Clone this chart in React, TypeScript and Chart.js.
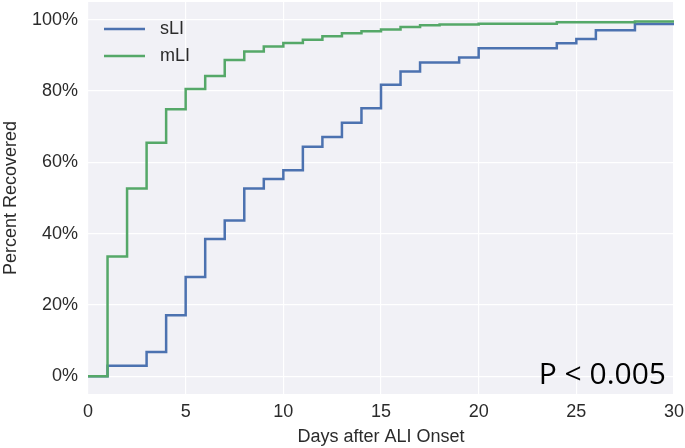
import React, { useEffect, useRef } from "react";
import { Chart, registerables } from "chart.js";
Chart.register(...registerables);

const seriesNames = ["sLI", "mLI"];
const sliDays = [0, 1, 3, 4, 5, 6, 7, 8, 9, 10, 11, 12, 13, 14, 15, 16, 17, 19, 20, 24, 25, 26, 28, 30];
const sliValues = [0, 2.9, 6.8, 17.1, 27.8, 38.5, 43.7, 52.7, 55.3, 57.8, 64.4, 67.1, 71.1, 75.2, 81.8, 85.5, 88.0, 89.4, 92.0, 93.4, 94.6, 97.1, 98.8, 98.8];
const mliDays = [0, 1, 2, 3, 4, 5, 6, 7, 8, 9, 10, 11, 12, 13, 14, 15, 16, 17, 18, 20, 24, 28, 30];
const mliValues = [0, 33.6, 52.7, 65.5, 74.9, 80.6, 84.2, 88.7, 91.1, 92.5, 93.5, 94.4, 95.4, 96.2, 96.8, 97.3, 98.0, 98.5, 98.7, 98.9, 99.3, 99.5, 99.5];
const xTicks = [0, 5, 10, 15, 20, 25, 30];
const yTicks = [0, 20, 40, 60, 80, 100];
const xTitle = "Days after ALI Onset";
const yTitle = "Percent Recovered";
const annotationText = "P < 0.005";

const BLUE = "#4C72B0";
const GREEN = "#55A868";
const BG = "#F1F1F6";
const TXT = "#2B2B2B";
const FONT = "'Liberation Sans', Arial, sans-serif";
const FS = 18;

export default function App() {
  const ref = useRef<HTMLCanvasElement | null>(null);
  useEffect(() => {
    document.body.style.margin = "0";
    const canvas = ref.current!;
    const bgPlugin = {
      id: "bg",
      beforeDraw(chart: any) {
        const { ctx, chartArea } = chart;
        ctx.save();
        ctx.fillStyle = BG;
        ctx.fillRect(chartArea.left, chartArea.top, chartArea.right - chartArea.left, chartArea.bottom - chartArea.top);
        ctx.restore();
      },
    };
    const overlayPlugin = {
      id: "overlay",
      afterDraw(chart: any) {
        const { ctx, chartArea } = chart;
        ctx.save();
        const items = [
          { label: seriesNames[0], color: BLUE },
          { label: seriesNames[1], color: GREEN },
        ];
        items.forEach((it, i) => {
          const y = chartArea.top + 27 + i * 27;
          const x0 = chartArea.left + 16;
          ctx.strokeStyle = it.color;
          ctx.lineWidth = 2.5;
          ctx.beginPath();
          ctx.moveTo(x0, y);
          ctx.lineTo(x0 + 41, y);
          ctx.stroke();
          ctx.fillStyle = TXT;
          ctx.font = `${FS}px ${FONT}`;
          ctx.textBaseline = "middle";
          ctx.textAlign = "left";
          ctx.fillText(it.label, x0 + 56, y);
        });
        ctx.fillStyle = "#000";
        ctx.font = `30px 'Open Sans', 'Noto Sans', sans-serif`;
        ctx.textBaseline = "alphabetic";
        ctx.textAlign = "right";
        ctx.fillText(annotationText, chartArea.right - 8, chartArea.bottom - 10);
        ctx.restore();
      },
    };
    const zeroPad = (s: any) => {
      s.paddingTop = 0;
      s.paddingBottom = 0;
      s.paddingLeft = 0;
      s.paddingRight = 0;
    };
    const chart = new Chart(canvas, {
      type: "line",
      data: {
        datasets: [
          {
            label: seriesNames[0],
            data: sliDays.map((d, i) => ({ x: d, y: sliValues[i] })),
            borderColor: BLUE,
            borderWidth: 2.5,
            pointRadius: 0,
            stepped: "before",
            fill: false,
            order: 1,
          },
          {
            label: seriesNames[1],
            data: mliDays.map((d, i) => ({ x: d, y: mliValues[i] })),
            borderColor: GREEN,
            borderWidth: 2.5,
            pointRadius: 0,
            stepped: "before",
            fill: false,
            order: 0,
          },
        ],
      },
      options: {
        responsive: false,
        animation: false,
        layout: { padding: { top: 2, right: 11, left: 0, bottom: 0 } },
        plugins: { legend: { display: false }, tooltip: { enabled: false } },
        scales: {
          x: {
            type: "linear",
            min: 0,
            max: 30,
            afterBuildTicks: (s: any) => {
              s.ticks = xTicks.map((v) => ({ value: v }));
            },
            afterFit: (s: any) => {
              s.height = 54;
              zeroPad(s);
            },
            grid: { color: "#FFFFFF", lineWidth: 1.2, drawTicks: false },
            border: { display: false },
            ticks: { color: TXT, font: { family: FONT, size: FS }, padding: 7, maxRotation: 0 },
            title: { display: true, text: xTitle, color: TXT, font: { family: FONT, size: FS }, padding: { top: 0, bottom: 0 } },
          },
          y: {
            type: "linear",
            min: -5,
            max: 105,
            afterBuildTicks: (s: any) => {
              s.ticks = yTicks.map((v) => ({ value: v }));
            },
            afterFit: (s: any) => {
              s.width = 88;
              zeroPad(s);
            },
            grid: { color: "#FFFFFF", lineWidth: 1.2, drawTicks: false },
            border: { display: false },
            ticks: { color: TXT, font: { family: FONT, size: FS }, padding: 10, callback: (v: any) => `${v}%` },
            title: { display: true, text: yTitle, color: TXT, font: { family: FONT, size: FS }, padding: { top: 0, bottom: 0 } },
          },
        },
      },
      plugins: [bgPlugin, overlayPlugin],
    });
    return () => chart.destroy();
  }, []);
  return (
    <div style={{ width: 685, height: 448 }}>
      <canvas ref={ref} width={685} height={448} style={{ display: "block" }} />
    </div>
  );
}
